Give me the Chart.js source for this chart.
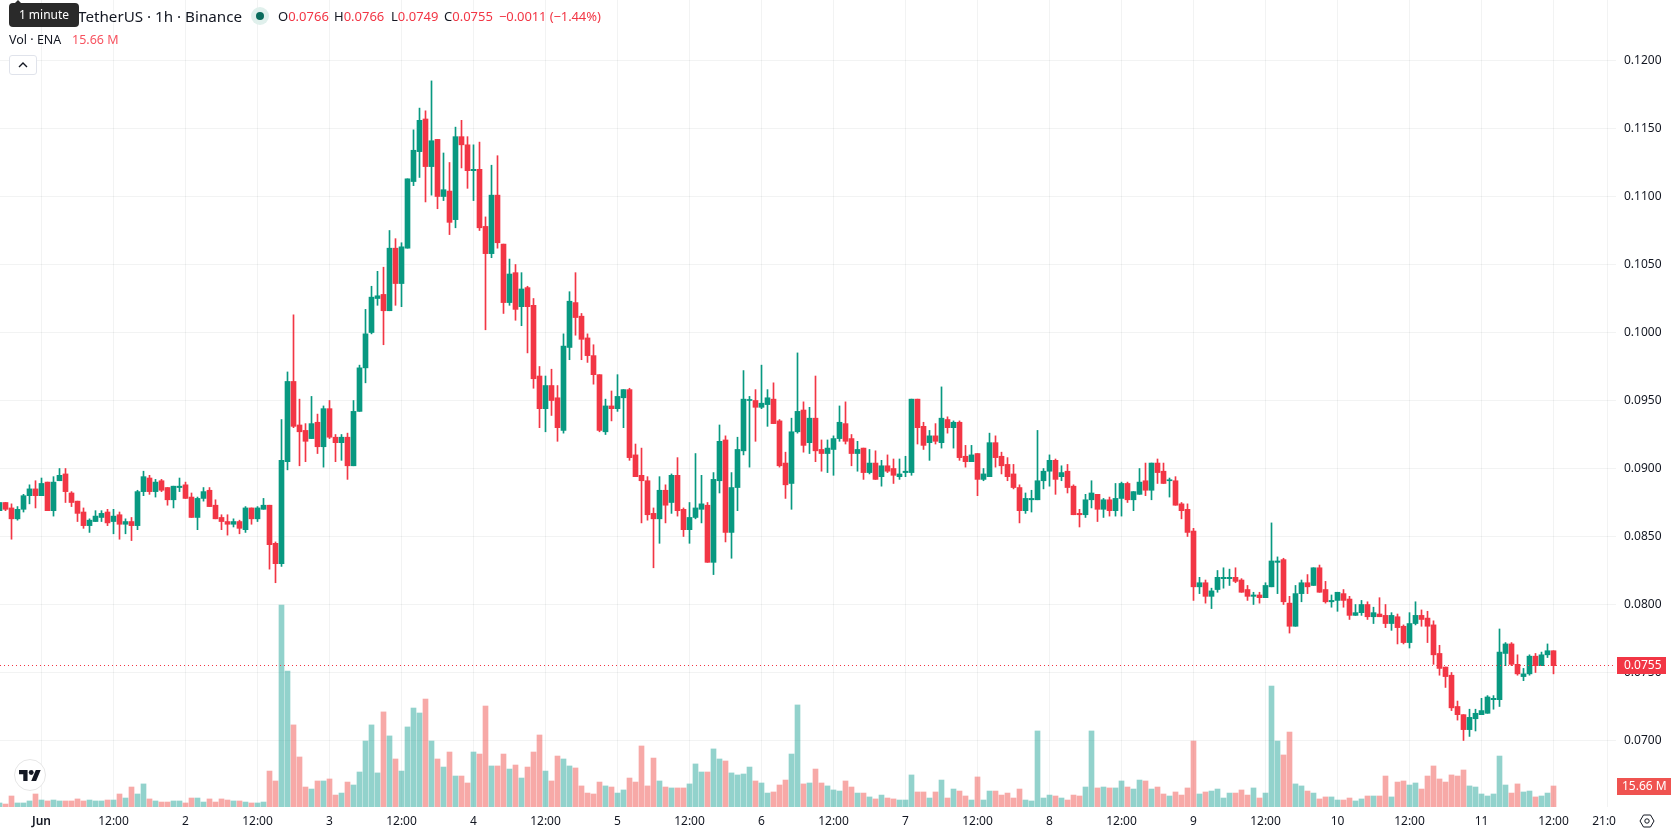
<!DOCTYPE html>
<html>
<head>
<meta charset="utf-8">
<title>ENA / TetherUS 1h</title>
<script src="https://cdn.jsdelivr.net/npm/chart.js@4/dist/chart.umd.min.js"></script>
<style>
    html, body { margin: 0; padding: 0; background: #fff; overflow: hidden; }
    body { font-family: "Noto Sans", sans-serif; color: #131722; }
    #wrap { position: relative; width: 1678px; height: 835px; overflow: hidden; }
    #chart { position: absolute; left: 0; top: 0; }
    .t { position: absolute; white-space: nowrap; font-size: 13px; line-height: 18px; }
    .down { color: #f23645; }
    #title { left: 78px; top: 5px; font-size: 15.2px; line-height: 22px; }
    #tip { position: absolute; left: 9px; top: 3px; width: 70px; height: 24px; background: #2a2a2a; border-radius: 4px;
        color: #fff; font-size: 12px; line-height: 24px; text-align: center; }
    #tip:before { content: ""; position: absolute; left: 5px; top: -3px; border: 4px solid transparent; border-top: 0;
        border-bottom-color: #2a2a2a; }
    #dot { position: absolute; left: 251px; top: 7px; width: 18px; height: 18px; border-radius: 50%; background: #e0f0ec; }
    #dot:after { content: ""; position: absolute; left: 5px; top: 5px; width: 8px; height: 8px; border-radius: 50%; background: #0a6b5c; }
    #collapse { position: absolute; left: 9px; top: 55px; width: 28px; height: 20px; box-sizing: border-box; background: #fff;
        border: 1px solid #e0e3eb; border-radius: 3px; }
    #logo { position: absolute; left: 14px; top: 759px; width: 32px; height: 32px; box-sizing: border-box; background: #fff;
        border: 1px solid #e6e6e6; border-radius: 50%; }
    #corner { position: absolute; left: 1616px; top: 807px; width: 62px; height: 28px; background: #fff; }
</style>
</head>
<body>
<div id="wrap">
    <canvas id="chart" width="1678" height="835"></canvas>

    <div class="t" id="title">TetherUS · 1h · Binance</div>
    <div id="tip">1 minute</div>
    <div id="dot"></div>
    <div class="t" style="left:278px;top:7px">O<span class="down">0.0766</span></div>
    <div class="t" style="left:334px;top:7px">H<span class="down">0.0766</span></div>
    <div class="t" style="left:391px;top:7px">L<span class="down">0.0749</span></div>
    <div class="t" style="left:444px;top:7px">C<span class="down">0.0755</span></div>
    <div class="t down" style="left:499px;top:7px;letter-spacing:-0.1px">−0.0011 (−1.44%)</div>
    <div class="t" style="left:9px;top:31px;font-size:12.5px">Vol · ENA</div>
    <div class="t" style="left:72px;top:31px;font-size:12.5px;color:#f7525f">15.66 M</div>
    <div id="collapse">
        <svg width="26" height="18" viewBox="0 0 26 18"><path d="M9 11l4-4 4 4" fill="none" stroke="#131722" stroke-width="1.4"/></svg>
    </div>
    <div id="logo">
        <svg style="position:absolute;left:4px;top:10px" width="22" height="11" viewBox="0 0 36 18">
            <path d="M14 18H7V7H0V0h14v18zM28 18h-8L27.5 0h8L28 18z" fill="#131722"/>
            <circle cx="20" cy="4" r="4" fill="#131722"/>
        </svg>
    </div>
    <div id="corner">
        <svg style="position:absolute;left:23px;top:6px" width="16" height="16" viewBox="0 0 16 16">
            <path d="M1 8l3.5-6h7L15 8l-3.5 6h-7z" fill="none" stroke="#131722" stroke-width="1"/>
            <circle cx="8" cy="8" r="2.2" fill="none" stroke="#131722" stroke-width="1"/>
        </svg>
    </div>
</div>

<script>
// hourly candles, hour 0 is Jun 1 00:00, first candle is 7h before that
const firstHour = -7;

// prices are in 0.0001 ticks
const opens = [
    869,875,871,863,870,880,885,880,890,869,
    891,896,882,876,868,858,861,864,868,861,
    866,859,861,858,883,893,883,891,886,877,
    886,888,879,864,878,884,873,864,861,859,
    861,855,871,863,870,873,845,830,905,964,
    932,928,922,934,916,944,923,919,923,902,
    942,974,1000,1025,1028,1016,1062,1036,1062,1111,
    1133,1157,1122,1142,1100,1104,1083,1144,1138,1119,
    1120,1078,1058,1101,1065,1022,1044,1019,1033,1020,
    968,944,961,952,928,989,1022,1012,996,983,
    969,927,946,944,952,958,910,895,891,867,
    863,884,875,895,870,855,864,870,873,831,
    891,921,853,886,913,950,950,945,947,951,
    935,904,889,927,943,919,937,914,911,914,
    922,933,922,911,915,897,904,894,902,900,
    894,897,897,951,931,919,924,919,936,930,
    934,909,905,911,892,894,919,909,903,896,
    886,869,877,877,891,898,906,894,898,887,
    867,866,877,881,870,877,869,878,889,877,
    881,891,884,904,898,891,891,874,870,854,
    813,816,806,811,819,819,820,818,811,806,
    807,805,813,831,833,801,784,808,816,814,
    827,811,802,803,808,804,792,794,800,791,
    793,792,786,791,784,772,786,792,790,785,
    764,754,748,725,719,708,716,719,720,730,
    730,764,771,756,747,749,762,755,763,766
];
const highs = [
    875,875,874,872,881,888,891,893,890,894,
    900,900,883,876,871,863,869,869,870,870,
    868,863,864,884,898,895,892,892,886,887,
    893,890,882,879,886,886,877,866,866,863,
    862,872,871,872,878,873,846,936,971,1013,
    951,933,953,940,946,950,925,925,926,950,
    976,1017,1034,1045,1048,1075,1069,1066,1113,1149,
    1165,1163,1185,1142,1132,1125,1151,1156,1144,1138,
    1140,1085,1123,1130,1065,1054,1050,1044,1034,1025,
    975,968,973,961,999,1030,1044,1014,999,991,
    969,951,957,969,958,959,918,915,894,871,
    894,888,896,908,871,875,911,895,875,897,
    932,924,897,923,972,953,958,976,958,963,
    936,912,937,985,949,945,968,921,921,924,
    946,949,925,920,915,914,913,906,910,907,
    907,909,951,951,934,928,933,960,938,935,
    935,917,917,911,900,926,924,912,908,903,
    888,882,884,928,900,910,907,902,903,888,
    870,881,891,881,878,879,889,890,890,883,
    900,904,904,907,904,893,894,875,874,856,
    820,818,812,825,827,826,827,819,814,809,
    809,816,860,835,834,806,814,818,822,827,
    829,817,807,809,811,806,800,803,802,798,
    805,800,794,793,785,794,802,796,795,788,
    770,754,750,729,719,723,723,731,733,733,
    782,772,772,763,753,763,764,765,771,766
];
const lows = [
    869,869,848,862,868,874,871,880,869,865,
    891,875,872,861,856,853,861,861,858,852,
    848,852,847,855,880,881,879,883,873,871,
    883,878,864,855,876,872,863,855,851,857,
    852,853,859,861,870,826,816,828,899,930,
    902,905,922,911,901,922,905,906,892,902,
    942,963,999,1020,991,1016,1020,1019,1062,1108,
    1114,1096,1101,1091,1097,1072,1077,1121,1106,1097,
    1075,1002,1055,1062,1014,1020,1009,1005,985,959,
    930,927,939,920,926,980,998,980,978,962,
    927,925,935,942,930,906,894,860,862,827,
    845,860,867,865,850,845,863,860,831,822,
    882,846,834,869,910,901,920,944,931,933,
    901,878,870,926,912,911,905,898,897,895,
    920,918,902,898,892,896,892,887,897,889,
    892,894,895,918,914,906,918,915,926,915,
    906,901,905,880,891,894,901,896,891,885,
    860,867,868,877,885,887,881,891,882,866,
    857,864,871,861,864,865,865,865,875,869,
    881,880,877,889,889,879,873,863,850,803,
    808,801,797,809,812,814,816,809,803,800,
    801,805,813,808,800,779,784,802,808,814,
    809,801,798,795,798,789,792,792,789,786,
    791,783,781,771,771,768,785,784,772,756,
    748,739,722,715,700,703,707,719,720,723,
    725,755,755,748,744,748,750,755,761,749
];
const closes = [
    875,870,863,870,880,885,880,889,869,890,
    895,883,875,867,858,862,865,867,860,865,
    859,861,858,883,894,883,890,884,877,887,
    887,878,864,878,883,872,863,861,859,861,
    856,871,863,871,873,844,830,906,964,931,
    927,920,933,916,944,923,919,923,902,942,
    974,999,1026,1027,1016,1062,1036,1063,1113,1134,
    1156,1122,1141,1100,1105,1081,1144,1138,1119,1120,
    1077,1058,1101,1066,1022,1043,1017,1032,1019,966,
    944,961,950,930,990,1023,1011,995,983,969,
    928,946,944,953,958,908,894,891,866,863,
    884,873,895,869,855,864,871,874,831,892,
    920,853,886,914,951,950,945,948,952,933,
    902,888,927,942,917,937,913,911,915,922,
    934,920,911,914,897,904,892,902,898,895,
    896,898,951,930,917,924,920,937,930,934,
    908,905,910,892,896,919,908,902,894,886,
    869,878,878,891,898,906,892,897,886,866,
    866,877,882,870,877,869,878,889,877,883,
    890,884,904,897,889,891,873,869,853,813,
    816,806,810,820,820,820,817,809,806,807,
    805,814,832,832,802,784,808,816,813,827,
    809,802,803,809,803,792,794,800,791,794,
    791,786,792,783,772,786,792,789,784,763,
    753,747,724,719,708,717,720,722,732,731,
    765,771,756,749,749,762,755,763,766,755
];
// volume in millions of ENA
const volumes = [
    3.0,2.2,8.2,3.0,3.0,4.5,9.7,5.2,4.5,5.2,
    4.5,4.5,4.5,6.0,4.5,5.2,4.5,4.5,5.2,5.2,
    9.7,6.7,14.9,9.7,17.2,6.0,4.5,3.7,3.7,4.5,
    4.5,3.0,6.7,6.7,3.7,6.0,3.7,6.0,5.2,4.5,
    4.5,3.7,3.0,3.0,3.7,26.8,19.4,150.6,101.4,61.2,
    37.3,14.9,13.4,19.4,19.4,20.9,8.9,10.4,18.6,16.4,
    26.1,49.2,61.2,25.4,70.9,53.0,35.8,26.8,59.7,73.8,
    70.1,80.5,49.2,35.8,29.8,41.0,23.1,23.1,17.9,41.0,
    39.5,75.3,30.6,30.6,39.5,28.3,31.3,21.6,29.8,41.0,
    53.7,26.8,19.4,38.0,35.8,30.6,29.1,15.7,10.4,9.7,
    18.6,15.7,14.9,10.4,12.7,21.6,18.6,45.5,15.7,36.5,
    19.4,14.9,14.2,14.2,14.2,17.2,32.1,26.1,26.1,43.3,
    35.8,34.3,25.4,23.9,24.6,29.8,19.4,17.9,10.4,11.2,
    16.4,20.1,39.5,76.1,17.2,17.9,28.3,17.9,15.7,12.7,
    11.9,19.4,14.9,10.4,10.4,7.5,6.0,8.9,6.7,6.0,
    5.2,5.2,23.9,11.2,11.2,6.7,11.2,20.1,6.7,13.4,
    11.9,8.2,5.2,22.4,5.2,11.9,11.9,8.9,10.4,6.7,
    13.4,5.2,4.5,56.7,6.7,8.9,8.2,6.7,5.2,8.9,
    8.2,14.9,56.7,14.2,14.9,14.2,14.2,19.4,14.9,13.4,
    20.1,19.4,13.4,14.9,9.7,8.2,11.2,8.9,14.2,49.2,
    9.7,11.2,11.9,13.4,6.7,10.4,10.4,12.7,8.9,14.2,
    6.7,10.4,90.2,49.2,38.8,55.9,17.2,15.7,11.9,10.4,
    6.0,7.5,7.5,5.2,5.2,6.7,4.5,6.0,8.2,8.2,
    8.2,23.1,7.5,18.6,19.4,16.4,17.9,13.4,23.1,30.6,
    20.9,18.6,23.9,23.1,27.6,15.7,14.9,9.7,8.2,9.7,
    38.0,16.4,10.4,17.2,11.2,11.9,7.5,8.2,10.4,15.66
];

const priceTicks = [0.07, 0.075, 0.08, 0.085, 0.09, 0.095, 0.1, 0.105, 0.11, 0.115, 0.12];
const timeTickHours = [0,12,24,36,48,60,72,84,96,108,120,132,144,156,168,180,192,204,216,228,240,252,261];
const timeTickLabels = ["Jun","12:00","2","12:00","3","12:00","4","12:00","5","12:00","6","12:00","7","12:00","8","12:00","9","12:00","10","12:00","11","12:00","21:00"];

const TICK = 0.0001;
const GREEN = "#089981";
const RED = "#f23645";
const FONT = '"Noto Sans", sans-serif';

const hours = opens.map((o, i) => firstHour + i);
const isUp = i => closes[i] >= opens[i];

const wicks = hours.map((h, i) => ({x: h, y: [lows[i] * TICK, highs[i] * TICK]}));
const bodies = hours.map((h, i) => ({x: h, y: [opens[i] * TICK, closes[i] * TICK]}));
const volumeBars = hours.map((h, i) => ({x: h, y: volumes[i]}));
const candleColors = hours.map((h, i) => isUp(i) ? GREEN : RED);
const volumeColors = hours.map((h, i) => isUp(i) ? "rgba(38,166,154,0.5)" : "rgba(239,83,80,0.5)");

// the plot has to run edge to edge, so drop the room chart.js keeps for tick labels
const noScalePadding = scale => {
    scale.paddingTop = 0;
    scale.paddingBottom = 0;
    scale.paddingLeft = 0;
    scale.paddingRight = 0;
};

// last price line and the two tags on the right side
const lastValuePlugin = {
    id: "lastValue",
    afterDraw(chart) {
        const {ctx, scales, chartArea} = chart;
        const lastClose = closes[closes.length - 1];
        const lastVolume = volumes[volumes.length - 1];
        const py = scales.y.getPixelForValue(lastClose * TICK);
        const vy = scales.volume.getPixelForValue(lastVolume);

        ctx.save();
        ctx.strokeStyle = RED;
        ctx.lineWidth = 1;
        ctx.setLineDash([1, 3]);
        ctx.beginPath();
        ctx.moveTo(chartArea.left, Math.floor(py) + 0.5);
        ctx.lineTo(chartArea.right, Math.floor(py) + 0.5);
        ctx.stroke();
        ctx.setLineDash([]);

        ctx.font = "12px " + FONT;
        ctx.textBaseline = "middle";
        ctx.fillStyle = RED;
        ctx.fillRect(chartArea.right + 1, Math.floor(py) - 8, 49, 17);
        ctx.fillStyle = "#fff";
        ctx.fillText((lastClose * TICK).toFixed(4), chartArea.right + 8, Math.floor(py) + 1);

        ctx.fillStyle = "#ef5350";
        ctx.fillRect(chartArea.right + 1, Math.floor(vy) - 8, 54, 17);
        ctx.fillStyle = "#fff";
        ctx.fillText(lastVolume.toFixed(2) + " M", chartArea.right + 6, Math.floor(vy) + 1);
        ctx.restore();
    }
};

new Chart(document.getElementById("chart"), {
    type: "bar",
    data: {
        datasets: [
            {data: bodies, yAxisID: "y", backgroundColor: candleColors, grouped: false, maxBarThickness: 5, minBarLength: 1, order: 1},
            {data: wicks, yAxisID: "y", backgroundColor: candleColors, grouped: false, maxBarThickness: 1, order: 2},
            {data: volumeBars, yAxisID: "volume", backgroundColor: volumeColors, grouped: false, maxBarThickness: 5, order: 3}
        ]
    },
    options: {
        responsive: false,
        animation: false,
        events: [],
        layout: {padding: 0},
        categoryPercentage: 1,
        barPercentage: 1,
        plugins: {legend: {display: false}, tooltip: {enabled: false}},
        scales: {
            x: {
                type: "linear",
                offset: false,
                min: -6.9167,
                max: 262.4167,
                afterBuildTicks: scale => { scale.ticks = timeTickHours.map(v => ({value: v})); },
                afterFit: scale => { scale.height = 28; noScalePadding(scale); },
                grid: {color: "rgba(42,46,57,0.06)", offset: false, drawTicks: false},
                border: {display: false},
                ticks: {
                    autoSkip: false,
                    maxRotation: 0,
                    padding: 7,
                    color: "#131722",
                    font: ctx => ({family: FONT, size: 12, weight: ctx.index === 0 ? "600" : "normal"}),
                    callback: (v, i) => timeTickLabels[i]
                }
            },
            y: {
                type: "linear",
                position: "right",
                min: 0.06511,
                max: 0.124449,
                afterBuildTicks: scale => { scale.ticks = priceTicks.map(v => ({value: v})); },
                afterFit: scale => { scale.width = 62; noScalePadding(scale); },
                grid: {color: "rgba(42,46,57,0.06)", drawTicks: false},
                border: {display: false},
                ticks: {
                    padding: 8,
                    color: "#131722",
                    font: {family: FONT, size: 12},
                    callback: v => v.toFixed(4)
                }
            },
            volume: {
                type: "linear",
                display: false,
                min: 0,
                max: 601.8
            }
        }
    },
    plugins: [lastValuePlugin]
});
</script>
</body>
</html>
